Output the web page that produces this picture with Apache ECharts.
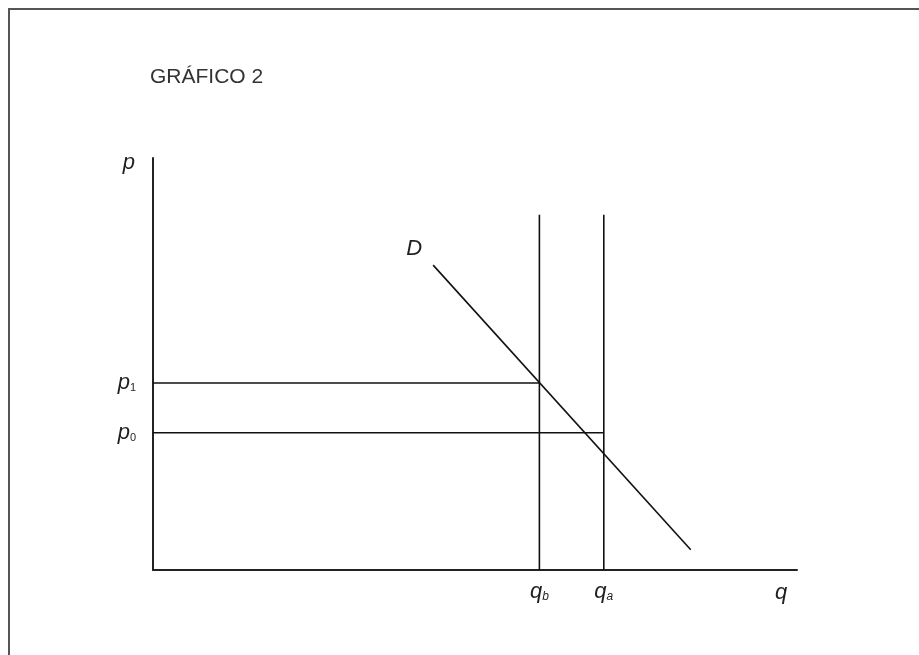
<!DOCTYPE html>
<html>
<head>
<meta charset="utf-8">
<script src="https://cdn.jsdelivr.net/npm/echarts@6/dist/echarts.min.js"></script>
<style>
  html, body { margin: 0; padding: 0; background: #fff; }
  #frame { position: absolute; left: 8px; top: 8px; width: 911px; height: 647px;
           border-top: 2px solid #555; border-left: 2px solid #555; box-sizing: border-box; }
  #container { position: absolute; left: 0; top: 0; width: 919px; height: 655px; }
</style>
</head>
<body>
<div id="frame"></div>
<div id="container"></div>
<script>
(function () {
    'use strict';

    // quantities on the horizontal axis
    var qb = 60;
    var qa = 70;
    // prices
    var p1 = 45.4;
    var p0 = 33.3;
    // top of the two vertical quantity lines
    var vTop = 86.2;
    // demand curve end points [q, p]
    var demand = [[43.5, 74.0], [83.5, 4.9]];

    var dom = document.getElementById('container');
    var myChart = echarts.init(dom);

    var font = '"Liberation Sans", Arial, sans-serif';
    var ink = '#231f20';
    var rich = {
        i: { fontFamily: font, fontStyle: 'italic', fontSize: 22, color: ink },
        s: { fontFamily: font, fontStyle: 'italic', fontSize: 12, color: ink, padding: [11, 0, 0, 0] },
        n: { fontFamily: font, fontStyle: 'normal', fontSize: 11, color: ink, padding: [11, 0, 0, 0] }
    };

    // a straight segment; its first point carries the label
    function seg(data, label) {
        return {
            type: 'line',
            symbol: 'circle',
            symbolSize: 0,
            showSymbol: true,
            silent: true,
            itemStyle: { color: '#111' },
            lineStyle: { color: '#111', width: 1.6 },
            label: { show: false },
            labelLayout: { hideOverlap: false },
            data: data.map(function (d, i) {
                if (i !== 0) return d;
                return { value: d, label: Object.assign({ show: true, rich: rich }, label) };
            })
        };
    }

    var option = {
        animation: false,
        title: {
            text: 'GRÁFICO 2',
            left: 145,
            top: 62,
            textStyle: { fontFamily: font, fontWeight: 'normal', fontSize: 21, color: '#333' }
        },
        grid: { left: 153, right: 122, top: 158, bottom: 85 },
        xAxis: {
            type: 'value', min: 0, max: 100,
            axisLine: { show: true, onZero: false, lineStyle: { color: '#222', width: 2 } },
            axisTick: { show: false }, axisLabel: { show: false }, splitLine: { show: false },
            name: '{i|q}', nameLocation: 'end', nameGap: -22,
            nameTextStyle: { rich: rich, padding: [45, 0, 0, 0] }
        },
        yAxis: {
            type: 'value', min: 0, max: 100,
            axisLine: { show: true, onZero: false, lineStyle: { color: '#222', width: 2 } },
            axisTick: { show: false }, axisLabel: { show: false }, splitLine: { show: false },
            name: '{i|p}', nameLocation: 'end', nameGap: -16,
            nameTextStyle: { rich: rich, align: 'right', padding: [0, 18, 0, 0] }
        },
        series: [
            seg([[0, p1], [qb, p1]], { position: 'left', distance: 17, formatter: '{i|p}{n|1}' }),
            seg([[0, p0], [qa, p0]], { position: 'left', distance: 17, formatter: '{i|p}{n|0}' }),
            seg([[qb, 0], [qb, vTop]], { position: 'bottom', distance: 10, formatter: '{i|q}{s|b}' }),
            seg([[qa, 0], [qa, vTop]], { position: 'bottom', distance: 10, formatter: '{i|q}{s|a}' }),
            seg(demand, { position: [-27, -27], formatter: '{i|D}' })
        ]
    };

    myChart.setOption(option);
})();
</script>
</body>
</html>
